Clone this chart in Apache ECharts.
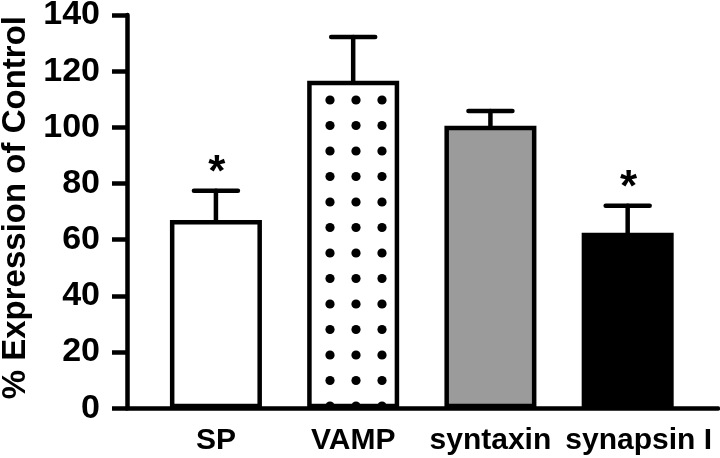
<!DOCTYPE html>
<html>
<head>
<meta charset="utf-8">
<script src="https://cdn.jsdelivr.net/npm/echarts@6/dist/echarts.min.js"></script>
<style>
html,body{margin:0;padding:0;background:#fff;}
#chart{width:720px;height:458px;}
</style>
</head>
<body>
<div id="chart"></div>
<script>
// ---- data ----
const categories = ['SP', 'VAMP', 'syntaxin', 'synapsin I'];
const means = [67, 116.6, 100.6, 62.5];
const errorTops = [77.4, 132.2, 105.8, 72.1];
const significant = [true, false, false, true];
const yMin = 0, yMax = 140, yStep = 20;
const yTitle = '% Expression of Control';

// ---- styles ----
const FONT = '"Liberation Sans", Arial, Helvetica, sans-serif';
const LW = 4.5;

function dotTile() {
  const c = document.createElement('canvas');
  c.width = 26; c.height = 51;
  const g = c.getContext('2d');
  g.fillStyle = '#fff';
  g.fillRect(0, 0, 26, 51);
  g.fillStyle = '#000';
  [[18, 49], [18, -2], [18, 23.5]].forEach(function (p) {
    g.beginPath(); g.arc(p[0], p[1], 4.6, 0, Math.PI * 2); g.fill();
  });
  return c;
}
const fills = ['#ffffff', { image: dotTile(), repeat: 'repeat' }, '#9b9b9b', '#000000'];
const labelShift = [0, 0, 0, 22];

const barData = means.map(function (v, i) {
  return { value: v, itemStyle: { color: fills[i] } };
});
const errData = categories.map(function (c, i) {
  return [i, means[i], errorTops[i], significant[i] ? 1 : 0];
});
const axisCats = categories.map(function (c, i) {
  return { value: c, textStyle: { padding: [0, 0, 0, labelShift[i]] } };
});

const chart = echarts.init(document.getElementById('chart'), null, { renderer: 'canvas' });
chart.setOption({
  animation: false,
  backgroundColor: '#fff',
  grid: [
    { left: 147.3, width: 549, top: 15, bottom: 49.7, outerBoundsMode: 'none', containLabel: false },
    { left: 127, right: 2, top: 15, bottom: 49.7, outerBoundsMode: 'none', containLabel: false }
  ],
  xAxis: [
    {
      type: 'category', gridIndex: 0, data: axisCats,
      axisLine: { show: false }, axisTick: { show: false },
      axisLabel: { interval: 0, color: '#000', fontFamily: FONT, fontWeight: 'bold', fontSize: 30, margin: 17 }
    },
    {
      type: 'value', gridIndex: 1, min: 0, max: 1,
      axisLine: { show: true, lineStyle: { color: '#000', width: LW } },
      axisTick: { show: false }, axisLabel: { show: false }, splitLine: { show: false }
    }
  ],
  yAxis: [
    { type: 'value', gridIndex: 0, min: yMin, max: yMax, show: false },
    {
      type: 'value', gridIndex: 1, min: yMin, max: yMax, interval: yStep,
      name: yTitle, nameLocation: 'middle', nameGap: 90,
      nameTextStyle: { color: '#000', fontFamily: FONT, fontWeight: 'bold', fontSize: 33, padding: [0, 0, 0, 8] },
      axisLine: { show: true, lineStyle: { color: '#000', width: LW } },
      axisTick: { show: true, length: 15, lineStyle: { color: '#000', width: LW } },
      axisLabel: { color: '#000', fontFamily: FONT, fontWeight: 'bold', fontSize: 34, margin: 27 },
      splitLine: { show: false }
    }
  ],
  series: [
    {
      type: 'bar', xAxisIndex: 0, yAxisIndex: 0,
      data: barData, barWidth: 92,
      itemStyle: { borderColor: '#000', borderWidth: LW },
      z: 3
    },
    {
      type: 'custom', xAxisIndex: 0, yAxisIndex: 0,
      data: errData,
      encode: { x: 0, y: [1, 2] },
      z: 4,
      renderItem: function (params, api) {
        const i = api.value(0);
        const lo = api.coord([i, api.value(1)]);
        const hi = api.coord([i, api.value(2)]);
        const st = { stroke: '#000', lineWidth: LW, lineCap: 'round' };
        const children = [
          { type: 'line', shape: { x1: lo[0], y1: lo[1], x2: hi[0], y2: hi[1] }, style: st },
          { type: 'line', shape: { x1: hi[0] - 22, y1: hi[1], x2: hi[0] + 22, y2: hi[1] }, style: st }
        ];
        if (api.value(3)) {
          children.push({
            type: 'text',
            style: {
              text: '*', x: hi[0] + 1, y: hi[1] + 5,
              fill: '#000', font: 'bold 44px ' + FONT,
              textAlign: 'center', textVerticalAlign: 'bottom'
            }
          });
        }
        return { type: 'group', children: children };
      }
    }
  ]
});
</script>
</body>
</html>
